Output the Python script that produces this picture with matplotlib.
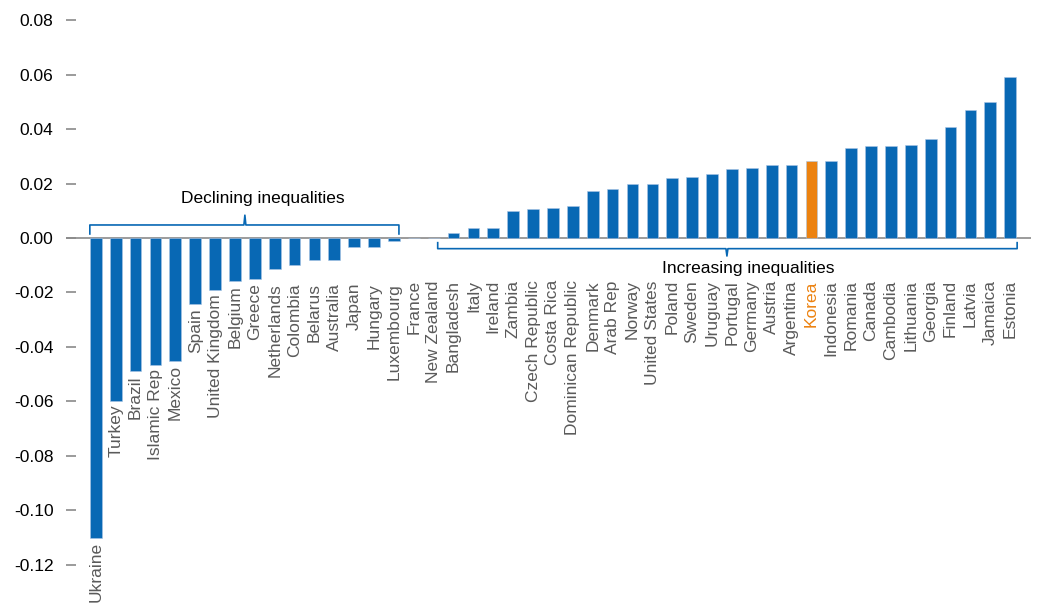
import matplotlib.pyplot as plt
import numpy as np

plt.rcParams['font.family'] = ['Liberation Sans', 'DejaVu Sans']

countries = [
    "Ukraine", "Turkey", "Brazil", "Islamic Rep", "Mexico", "Spain",
    "United Kingdom", "Belgium", "Greece", "Netherlands", "Colombia",
    "Belarus", "Australia", "Japan", "Hungary", "Luxembourg", "France",
    "New Zealand", "Bangladesh", "Italy", "Ireland", "Zambia",
    "Czech Republic", "Costa Rica", "Dominican Republic", "Denmark",
    "Arab Rep", "Norway", "United States", "Poland", "Sweden", "Uruguay",
    "Portugal", "Germany", "Austria", "Argentina", "Korea", "Indonesia",
    "Romania", "Canada", "Cambodia", "Lithuania", "Georgia", "Finland",
    "Latvia", "Jamaica", "Estonia",
]
values = [
    -0.110, -0.0597, -0.049, -0.0466, -0.045, -0.0242,
    -0.019, -0.0158, -0.0149, -0.0113, -0.0100,
    -0.0081, -0.0081, -0.0032, -0.0032, -0.0012, 0.0,
    0.0, 0.0020, 0.0038, 0.0038, 0.0099,
    0.0105, 0.0110, 0.0116, 0.0172,
    0.0179, 0.0198, 0.0198, 0.0221, 0.0226, 0.0235,
    0.0252, 0.0256, 0.0270, 0.0270, 0.0284, 0.0283,
    0.0330, 0.0339, 0.0339, 0.0343, 0.0363, 0.0408,
    0.0472, 0.0499, 0.0592,
]
highlight = "Korea"
yticks = [0.08, 0.06, 0.04, 0.02, 0.00, -0.02, -0.04, -0.06, -0.08, -0.10, -0.12]

BLUE = "#0868b4"
ORANGE = "#ec8210"
GREY = "#5a5a5a"

fig = plt.figure(figsize=(10.49, 6.13), dpi=100)
ax = fig.add_axes([0.0629, 0.0343, 0.920, 0.946])

x = np.arange(len(countries))
colors = [ORANGE if c == highlight else BLUE for c in countries]
ax.bar(x, values, width=0.59, color=colors, edgecolor="#a9c4e4", linewidth=0.4, zorder=2)
ax.axhline(0, color="#8a8a8a", lw=1.2, zorder=1)

# country labels below bars / below zero line
for xi, c, v in zip(x, countries, values):
    y = min(v - 0.0015, -0.0165) if v < 0 else -0.0155
    ax.text(xi, y, c, rotation=90, ha="center", va="top", fontsize=12.5,
            color=ORANGE if c == highlight else GREY)

# brackets
ax.plot([-0.3, -0.3, 7.45, 7.5, 7.55, 15.25, 15.25],
        [0.0015, 0.0048, 0.0048, 0.0084, 0.0048, 0.0048, 0.0015],
        color=BLUE, lw=1.2, solid_joinstyle="round")
ax.text(8.4, 0.0147, "Declining inequalities", ha="center", va="center",
        fontsize=12.5, color="black")

ax.plot([17.2, 17.2, 31.7, 31.75, 31.8, 46.35, 46.35],
        [-0.0017, -0.0039, -0.0039, -0.0066, -0.0039, -0.0039, -0.0017],
        color=BLUE, lw=1.2, solid_joinstyle="round")
ax.text(32.8, -0.0113, "Increasing inequalities", ha="center", va="center",
        fontsize=12.5, color="black")

ax.set_xlim(-1.5, 47.05)
ax.set_ylim(-0.13, 0.083)
ax.set_yticks(yticks)
ax.set_yticklabels([f"{t:.2f}" for t in yticks], fontsize=12.5)
ax.tick_params(axis="y", direction="in", length=7, width=1.2, color="#8a8a8a", pad=9)
ax.set_xticks([])
for s in ax.spines.values():
    s.set_visible(False)

fig.savefig("out.png", dpi=100)
